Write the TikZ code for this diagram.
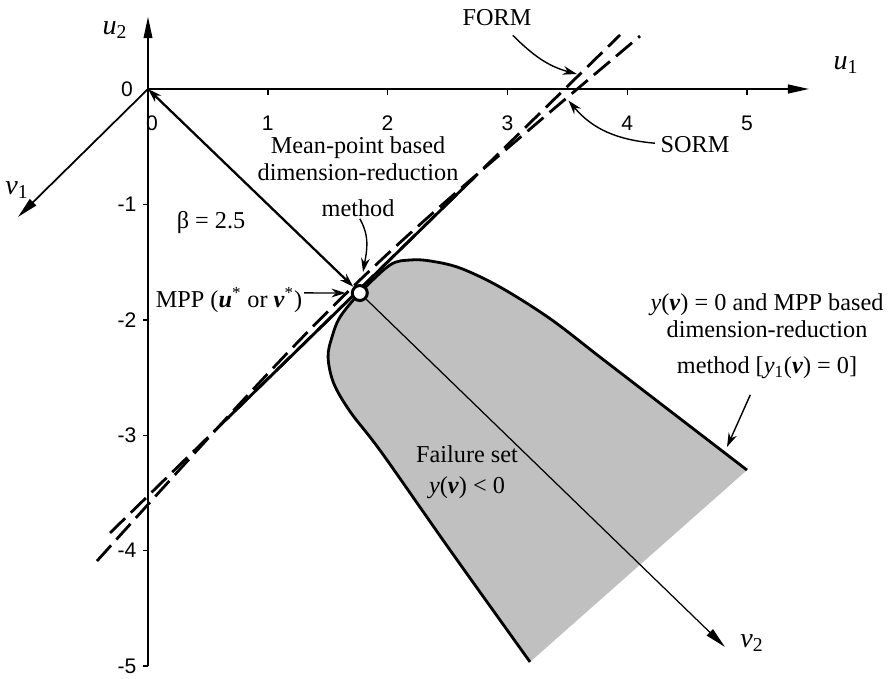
\documentclass[tikz,border=0pt]{standalone}
\usepackage{fontspec}
\setmainfont{Liberation Serif}
\setsansfont{Liberation Sans}
\usepackage{tikz}
\usetikzlibrary{arrows.meta,calc,positioning}
\definecolor{failgray}{HTML}{C0C0C0}

\begin{document}
\begin{tikzpicture}[x=2.396cm,y=2.308cm,>={Stealth[length=8pt,width=5pt]},
  axis/.style={-{Triangle[length=12pt,width=5pt]},line width=1pt},
  lbl/.style={font=\fontsize{13.8}{15.5}\selectfont,align=center,inner sep=1pt},
  num/.style={font=\sffamily\fontsize{12}{14}\selectfont,inner sep=1pt},
  axl/.style={font=\fontsize{16}{18}\selectfont,inner sep=1pt},
  dsh/.style={line width=1.6pt,dash pattern=on 0.42cm off 0.16cm},
  pointer/.style={->,line width=0.8pt}]
\useasboundingbox (-1.2354,0.7712) rectangle (6.2020,-5.1040);
\coordinate (O) at (0,0);
\coordinate (u1end) at (5.518,0);
\coordinate (u2end) at (0,0.624);
\coordinate (u2bot) at (0,-5);
\coordinate (v1end) at (-1.085,-1.109);
\coordinate (v2end) at (4.816,-4.835);
\coordinate (formlo) at (-0.317,-3.847);
\coordinate (formhi) at (3.940,0.468);
\coordinate (sormlo) at (-0.426,-4.090);
\coordinate (sormhi) at (4.107,0.459);
\coordinate (mplo) at (0.643,-2.874);
\coordinate (mphi) at (2.730,-0.759);
\coordinate (formpt) at (3.58,0.13);
\coordinate (sormpt) at (3.51,-0.10);
\coordinate (mptip) at (1.795,-1.586);
\coordinate (rdtip) at (4.833,-3.102);

\fill[failgray] plot[smooth,tension=0.55] coordinates {(3.189,-4.965) (2.521,-3.995) (1.950,-3.150) (1.690,-2.800) (1.550,-2.550) (1.503,-2.322) (1.536,-2.149) (1.603,-1.976) (1.768,-1.768) (2.020,-1.525) (2.187,-1.482) (2.354,-1.490) (2.604,-1.551) (2.938,-1.716) (3.356,-1.990) (3.773,-2.323) (4.190,-2.656) (5.000,-3.302)} -- cycle;
\draw[line width=1.6pt,line join=round] plot[smooth,tension=0.55] coordinates {(3.189,-4.965) (2.521,-3.995) (1.950,-3.150) (1.690,-2.800) (1.550,-2.550) (1.503,-2.322) (1.536,-2.149) (1.603,-1.976) (1.768,-1.768) (2.020,-1.525) (2.187,-1.482) (2.354,-1.490) (2.604,-1.551) (2.938,-1.716) (3.356,-1.990) (3.773,-2.323) (4.190,-2.656) (5.000,-3.302)};

\draw[dsh] (formlo) -- (formhi);
\draw[dsh] (sormlo) .. controls (1.685,-1.662) .. (sormhi);
\draw[line width=1.6pt] (mplo) -- (mphi);

\draw[axis,line width=0.6pt] (O) -- (u2end);
\draw[line width=1.7pt] (O) -- (u2bot);
\draw[axis] (O) -- (u1end);
\draw[axis] (O) -- (v1end);
\foreach \i in {1,...,5} {
  \draw[line width=0.8pt] (\i,0) -- (\i,-0.05);
  \node[num] (t\i) at (\i,-0.295) {\i};
  \draw[line width=0.8pt] (0,-\i) -- (-0.042,-\i);
  \node[num,anchor=east] (s\i) at (-0.08,-\i) {-\i};
}
\node[num] (z1) at (-0.175,0) {0};
\node[num] (z2) at (0.033,-0.295) {0};

\node[axl] (u1lab) at (5.826,0.208) {\textit{u}\textsubscript{1}};
\node[axl] (u2lab) at (-0.275,0.511) {\textit{u}\textsubscript{2}};
\node[axl] (v1lab) at (-1.093,-0.875) {\textit{v}\textsubscript{1}};
\node[axl] (v2lab) at (5.042,-4.801) {\textit{v}\textsubscript{2}};

\node[circle,draw,fill=white,line width=1.7pt,minimum size=0.3cm,inner sep=0pt] (mpp) at (1.768,-1.768) {};
\draw[-{Triangle[length=12pt,width=5pt]},line width=0.7pt] (mpp) -- (v2end);
\draw[<->,line width=1.3pt] (O) -- (mpp);

\node[lbl] (form) at (2.913,0.615) {FORM};
\node[lbl] (sorm) at (4.566,-0.485) {SORM};
\node[lbl] (mpdr) at (1.753,-0.758) {Mean-point based\\dimension-reduction\\[5pt]method};
\node[lbl] (mppdr) at (5.167,-2.140) {\textit{y}(\textbf{\textit{v}}) = 0 and MPP based\\dimension-reduction\\[5pt]method [\textit{y}\textsubscript{1}(\textbf{\textit{v}}) = 0]};
\node[lbl] (beta) at (0.526,-1.161) {β = 2.5};
\node[lbl] (mpplab) at (0.676,-1.828) {MPP (\textbf{\textit{u}}\textsuperscript{*} or \textbf{\textit{v}}\textsuperscript{*})};
\node[lbl] (fail) at (2.663,-3.323) {Failure set\\[2pt]\textit{y}(\textbf{\textit{v}}) < 0};

\draw[pointer] ([xshift=9pt,yshift=-4pt]form.south) to[out=-45,in=165] (formpt);
\draw[pointer] ([xshift=-2pt,yshift=1pt]sorm.west) to[out=175,in=-50] (sormpt);
\draw[pointer] ([xshift=1pt]mpdr.south) to[out=-60,in=80] (mptip);
\draw[pointer] ([yshift=4pt]mpplab.east) -- ([xshift=-3pt]mpp.west);
\draw[pointer] ([xshift=-9.5pt,yshift=-8pt]mppdr.south) -- (rdtip);
\end{tikzpicture}
\end{document}
